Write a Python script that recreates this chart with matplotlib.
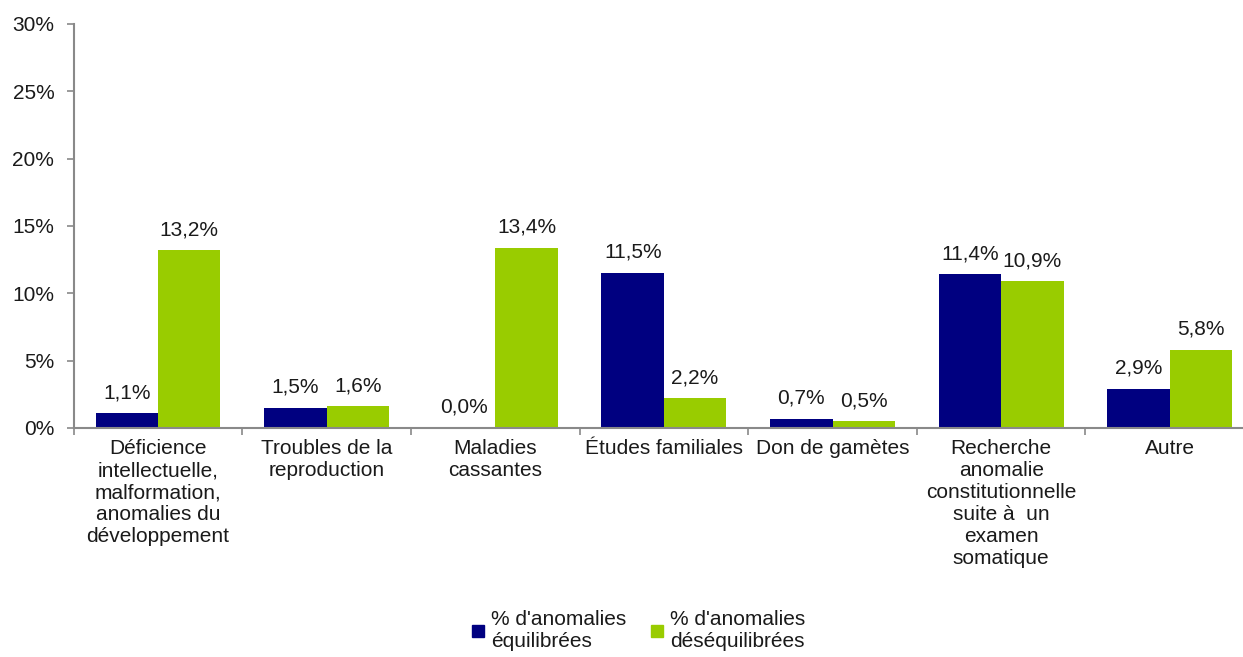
import matplotlib.pyplot as plt
import numpy as np
from matplotlib.ticker import FuncFormatter
from matplotlib.lines import Line2D

plt.rcParams['font.family'] = ['Liberation Sans', 'DejaVu Sans']

categories = [
    "Déficience\nintellectuelle,\nmalformation,\nanomalies du\ndéveloppement",
    "Troubles de la\nreproduction",
    "Maladies\ncassantes",
    "Études familiales",
    "Don de gamètes",
    "Recherche\nanomalie\nconstitutionnelle\nsuite à  un\nexamen\nsomatique",
    "Autre",
]
equilibrees = [1.1, 1.5, 0.0, 11.5, 0.7, 11.4, 2.9]
desequilibrees = [13.2, 1.6, 13.4, 2.2, 0.5, 10.9, 5.8]
series_names = ["% d'anomalies\néquilibrées", "% d'anomalies\ndéséquilibrées"]

NAVY = "#000080"
GREEN = "#99CC00"
GRAY = "#898989"
FS = 15

fig = plt.figure(figsize=(12.43, 6.57), dpi=100)
ax = fig.add_axes([0.0593, 0.3486, 0.9496, 0.6149])

x = np.arange(len(categories))
w = 0.37
b1 = ax.bar(x - w / 2, equilibrees, w, color=NAVY)
b2 = ax.bar(x + w / 2, desequilibrees, w, color=GREEN)

for bars, vals in ((b1, equilibrees), (b2, desequilibrees)):
    for bar, v in zip(bars, vals):
        ax.annotate(f"{v:.1f}%".replace(".", ","),
                    (bar.get_x() + bar.get_width() / 2, v),
                    xytext=(0, 8), textcoords="offset points",
                    ha="center", va="bottom", fontsize=FS, color="#1a1a1a")

ax.set_xlim(-0.5, len(categories) - 0.5)
ax.set_ylim(0, 30)
ax.set_yticks(np.arange(0, 31, 5))
ax.yaxis.set_major_formatter(FuncFormatter(lambda v, p: f"{v:.0f}%"))
ax.tick_params(axis="y", labelsize=FS, colors=GRAY, labelcolor="#1a1a1a",
               length=5, width=1.2, pad=9)

ax.set_xticks(np.arange(-0.5, len(categories), 1))
ax.set_xticklabels([])
ax.tick_params(axis="x", colors=GRAY, length=5, width=1.2)
ax.set_xticks(x, minor=True)
ax.set_xticklabels(categories, minor=True, fontsize=FS, color="#1a1a1a",
                   linespacing=1.2, va="top")
ax.tick_params(axis="x", which="minor", length=0, pad=8)

for s in ("top", "right"):
    ax.spines[s].set_visible(False)
for s in ("left", "bottom"):
    ax.spines[s].set_color(GRAY)
    ax.spines[s].set_linewidth(1.5)

handles = [Line2D([], [], marker="s", linestyle="none", markersize=9, color=c)
           for c in (NAVY, GREEN)]
fig.legend(handles, series_names, loc="center", bbox_to_anchor=(0.512, 0.04),
           ncol=2, frameon=False, fontsize=FS, handletextpad=0.1,
           columnspacing=1.0, handlelength=1.0, labelcolor="#1a1a1a")
for t in fig.legends[0].get_texts():
    t.set_linespacing(1.2)

fig.savefig("out.png", dpi=100)
